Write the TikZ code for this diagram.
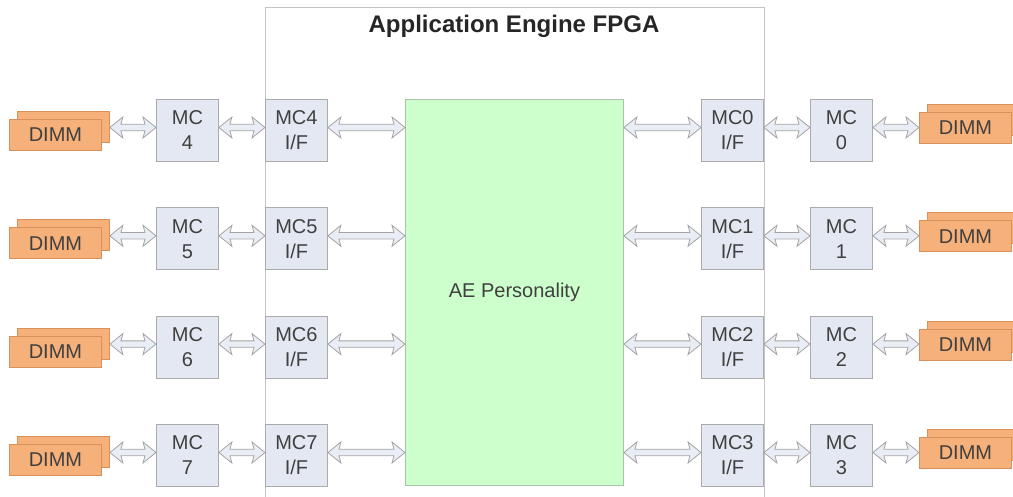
\documentclass[tikz,border=0pt]{standalone}
\usepackage{fontspec}
\setmainfont{Liberation Sans}
\usetikzlibrary{calc}

\definecolor{framegray}{HTML}{C4C4C4}
\definecolor{boxfill}{HTML}{E3E8F2}
\definecolor{boxline}{HTML}{ABABAB}
\definecolor{dimmfill}{HTML}{F6B07A}
\definecolor{dimmline}{HTML}{D9905A}
\definecolor{aefill}{HTML}{CCFFCC}
\definecolor{aeline}{HTML}{A8C4A8}
\definecolor{arrowfill}{HTML}{E9EDF5}
\definecolor{arrowline}{HTML}{A4A4A4}
\definecolor{labelgray}{HTML}{404040}

\tikzset{
  unitbox/.style={draw=boxline, fill=boxfill, line width=0.9pt,
    minimum width=62pt, minimum height=62pt, inner sep=0pt,
    anchor=north west, align=center,
    font=\fontsize{20}{25}\selectfont, text=labelgray},
  dimmbox/.style={draw=dimmline, fill=dimmfill, line width=0.9pt,
    minimum width=92pt, minimum height=31pt, inner sep=0pt,
    anchor=north west, font=\fontsize{20}{24}\selectfont, text=labelgray},
  busarrow/.style={draw=arrowline, fill=arrowfill, line width=0.8pt,
    line join=miter}
}

% hollow double-headed bus arrow from the east side of #1 to the west side
% of #2, at the height of coordinate #3; the heads have slightly swept barbs
\newcommand{\busarrow}[3]{%
  \path[busarrow] let \p1=(#1.east), \p2=(#2.west), \p3=(#3) in
    (\x1,\y3) -- (\x1+13pt,\y3+10.5pt) -- (\x1+11pt,\y3+3.2pt)
    -- (\x2-11pt,\y3+3.2pt) -- (\x2-13pt,\y3+10.5pt) -- (\x2,\y3)
    -- (\x2-13pt,\y3-10.5pt) -- (\x2-11pt,\y3-3.2pt)
    -- (\x1+11pt,\y3-3.2pt) -- (\x1+13pt,\y3-10.5pt) -- cycle;}

\begin{document}
\begin{tikzpicture}[x=1pt,y=-1pt]
  \useasboundingbox (0,0) rectangle (1013,497);

  % FPGA outline, running off the lower edge
  \node[draw=framegray, line width=0.9pt, minimum width=499pt,
        minimum height=520pt, inner sep=0pt, anchor=north west]
        (fpga) at (265,7) {};
  \node[font=\fontsize{24}{28}\selectfont\bfseries, text=black!85]
        (title) at (514,26) {Application Engine FPGA};

  % user logic
  \node[draw=aeline, fill=aefill, line width=0.9pt, minimum width=218pt,
        minimum height=386pt, inner sep=0pt, anchor=north west,
        font=\fontsize{20}{24}\selectfont, text=labelgray]
        (ae) at (405,99) {AE Personality};

  % memory channels: left side MC4..MC7, right side MC0..MC3
  \foreach \i/\yt/\l/\r in {1/99/4/0, 2/207.3/5/1, 3/315.6/6/2, 4/424/7/3} {
    \coordinate (bus\i) at (0,\yt+28.5);

    \node[dimmbox] (dimmLb\i) at (17,\yt+12) {};
    \node[dimmbox] (dimmL\i)  at (9,\yt+20) {DIMM};
    \node[unitbox] (mcL\i) at (156,\yt) {MC\\\l};
    \node[unitbox] (ifL\i) at (265,\yt) {MC\l\\I/F};

    \node[unitbox] (ifR\i) at (701,\yt) {MC\r\\I/F};
    \node[unitbox] (mcR\i) at (810,\yt) {MC\\\r};
    \node[dimmbox] (dimmRb\i) at (927,\yt+5) {};
    \node[dimmbox] (dimmR\i)  at (919,\yt+13) {DIMM};

    \busarrow{dimmLb\i}{mcL\i}{bus\i}
    \busarrow{mcL\i}{ifL\i}{bus\i}
    \busarrow{ifL\i}{ae}{bus\i}
    \busarrow{ae}{ifR\i}{bus\i}
    \busarrow{ifR\i}{mcR\i}{bus\i}
    \busarrow{mcR\i}{dimmR\i}{bus\i}
  }
\end{tikzpicture}
\end{document}
